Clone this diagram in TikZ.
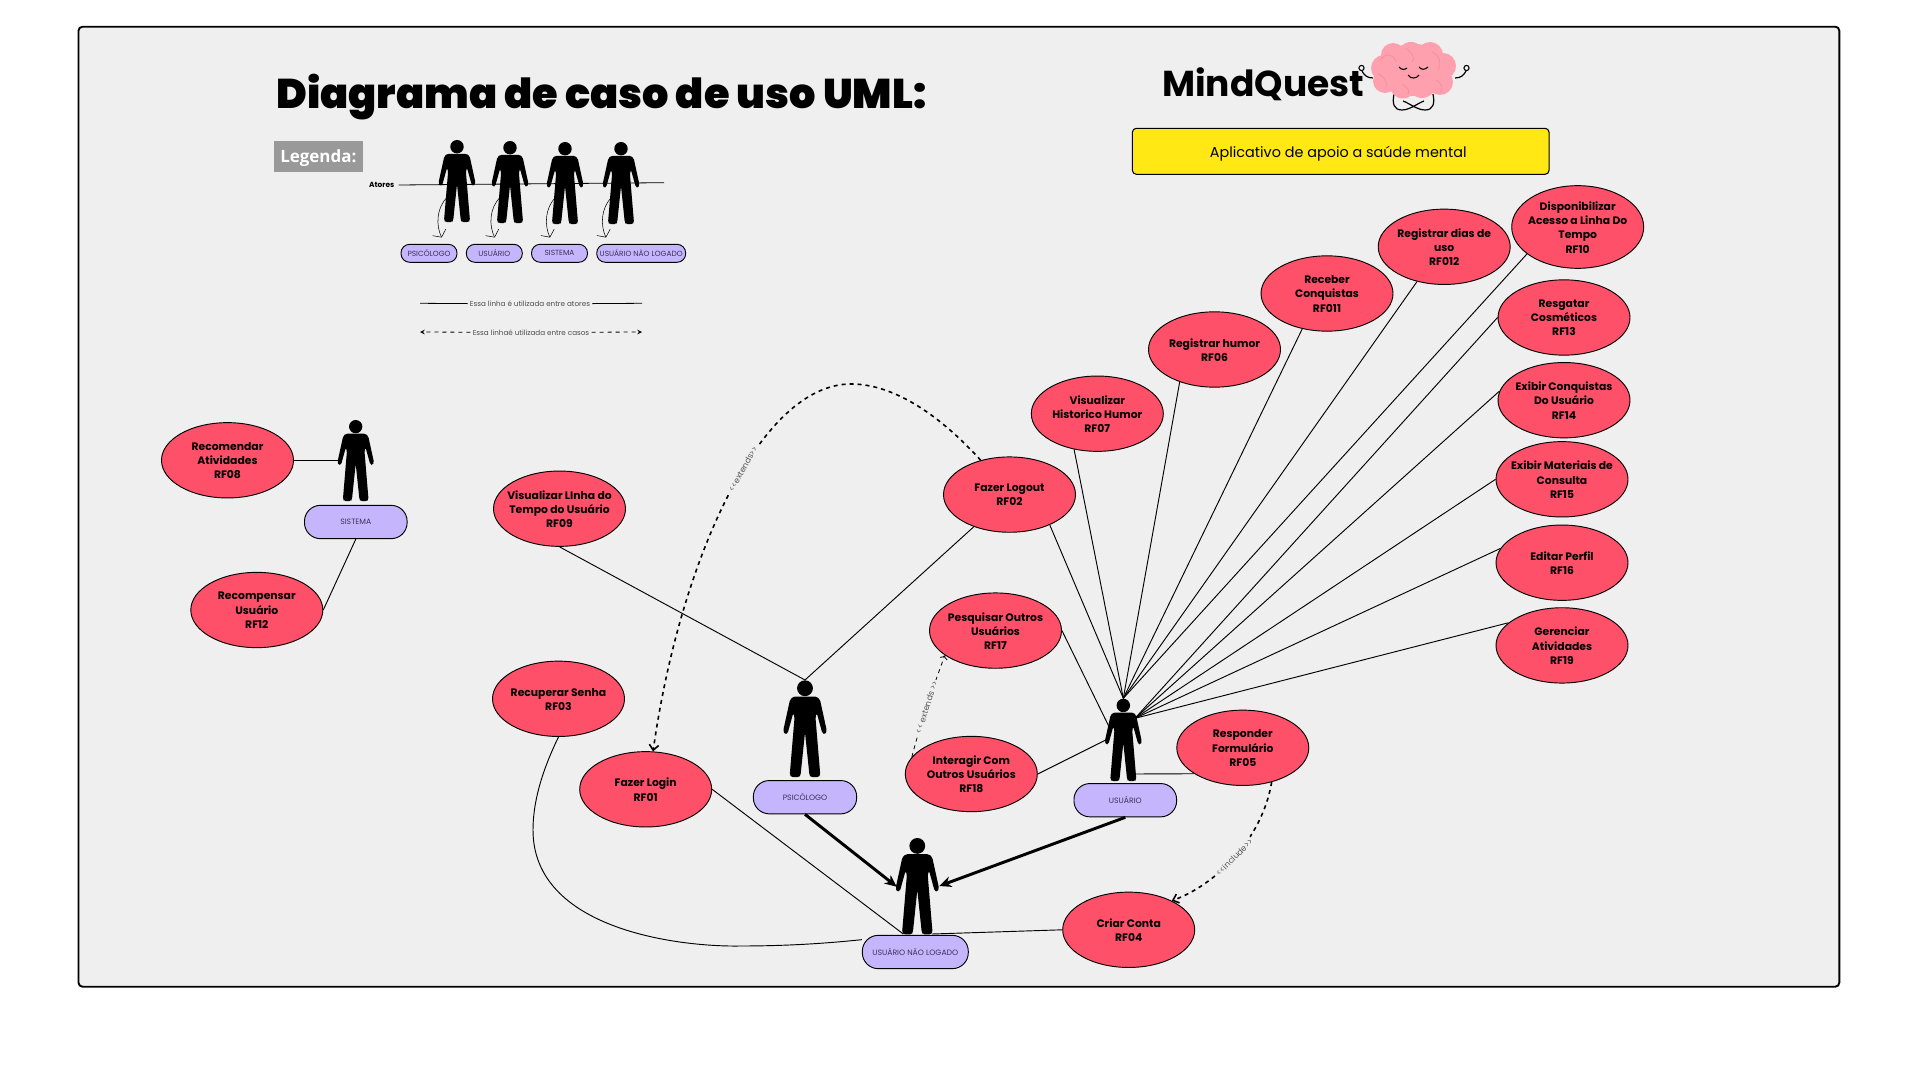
\documentclass[tikz,border=0pt]{standalone}
\usepackage{fontspec}
\usepackage{tikz}
\usetikzlibrary{shapes,arrows}
\usetikzlibrary{arrows.meta}
\usetikzlibrary{positioning}
\setmainfont{Poppins}
\newfontfamily\titlefont{Poppins Black}
\newfontfamily\legfont{Open Sans}
\newfontfamily\relfont{Poppins}
\definecolor{mypanel}{RGB}{239,239,239}
\definecolor{mycase}{RGB}{255,80,105}
\definecolor{mypill}{RGB}{196,181,253}
\definecolor{mypilltext}{RGB}{60,50,90}
\definecolor{myyellow}{RGB}{255,232,20}
\definecolor{mybrain}{RGB}{255,160,174}
\definecolor{myfold}{RGB}{244,136,155}
\definecolor{mygrey}{RGB}{153,153,153}
\tikzset{
  actorfig/.pic={
    \fill (0,8.2) circle (8.2);
    \fill[rounded corners=1.2pt] (0,16.8) -- (12,16.8) -- (15.5,20) -- (22.5,52) -- (21,56) -- (18,55) -- (12.2,34)
      -- (10.8,38) -- (15.8,98) -- (14,100.2) -- (6,100.2) -- (4.6,98) -- (0,54)
      -- (-4.6,98) -- (-6,100.2) -- (-14,100.2) -- (-15.8,98) -- (-10.8,38)
      -- (-12.2,34) -- (-18,55) -- (-21,56) -- (-22.5,52) -- (-15.5,20) -- (-12,16.8) -- cycle;
  }
}
\newcommand\mycasenode[4][]{%
  \node[casenode,#1] (#2) at (#3) {};
  \node[casetext] (#2text) at (#2) {#4};
}
\newcommand\myactor[3]{\pic[scale=#3] at (#1,#2) {actorfig};}
\newcommand\mypillnode[5][]{%
  \node[pillnode,#1,minimum width=#5] (#2) at (#3) {#4};
}

\begin{document}
\begin{tikzpicture}[
x=0.75pt,y=-0.75pt,
casenode/.style={
  ellipse,
  draw,
  line width=0.7pt,
  fill=mycase,
  minimum width=99pt,
  minimum height=56.5pt,
  inner sep=0pt},
casetext/.style={
  align=center,
  yshift=-0.3pt,
  font=\fontsize{8.1}{10.7}\selectfont\bfseries,
  inner sep=0pt},
pillnode/.style={
  rectangle,
  rounded corners=12pt,
  draw,
  line width=0.7pt,
  fill=mypill,
  text=mypilltext,
  minimum height=25pt,
  inner sep=0pt,
  font=\fontsize{5.8}{7}\selectfont},
legpill/.style={
  rounded corners=6.5pt,
  minimum height=13.5pt,
  font=\fontsize{5.6}{6}\selectfont},
assoc/.style={line width=0.7pt},
relation/.style={dashed,line width=1.2pt,-{Straight Barb[length=4pt,width=7pt]}},
relsmall/.style={dashed,line width=0.6pt,->},
reltext/.style={
  fill=mypanel,
  inner sep=1pt,
  text=black!65,
  font=\fontsize{6.2}{7}\selectfont\relfont},
inherit/.style={line width=2.2pt,-{Stealth[length=9pt,width=8pt]}},
legarrow/.style={line width=0.4pt,-{Straight Barb[length=4pt,width=11pt]}},
legtext/.style={
  text=black!70,
  inner sep=1.5pt,
  font=\fontsize{5.4}{6}\selectfont}
]
\useasboundingbox (0,0) rectangle (1920,1080);
\fill[white] (0,0) rectangle (1920,1080);
\draw[line width=1.4pt,fill=mypanel,rounded corners=3pt] (78.5,26.7) rectangle (1839.3,986.7);

% title and logo
\node[anchor=base west,inner sep=0pt,font=\fontsize{31.1}{36}\selectfont\titlefont] (title) at (276,108.3) {Diagrama de caso de uso UML:};
\node[anchor=base west,inner sep=0pt,font=\fontsize{27}{30}\selectfont\bfseries] (logo) at (1162,97) {MindQuest};
\node[draw,line width=0.8pt,fill=myyellow,rounded corners=3pt,minimum width=312.5pt,minimum height=34.5pt,inner sep=0pt] (slogan) at (1340.7,151.3) {};
\node[font=\fontsize{10.8}{13}\selectfont,inner sep=0pt] (slogantext) at (1338.3,153.5) {Aplicativo de apoio a saúde mental};

% brain
\draw[line width=0.9pt] (1373,78) .. controls (1367,78) and (1364,75) .. (1362,71);
\draw[line width=0.9pt] (1455,78) .. controls (1461,78) and (1464,75) .. (1466,71);
\draw[line width=0.8pt] (1361.5,68) circle (2.6);
\draw[line width=0.8pt] (1466.5,68) circle (2.6);
\draw[line width=0.9pt] (1394,94) .. controls (1392,104) and (1394,110) .. (1402,110) .. controls (1410,110) and (1418,103) .. (1424,101);
\draw[line width=0.9pt] (1433,94) .. controls (1435,104) and (1433,110) .. (1425,110) .. controls (1417,110) and (1409,103) .. (1403,101);
\fill[mybrain] (1413.5,70) ellipse (36 and 26);
\fill[mybrain] (1384,68) circle (13);
\fill[mybrain] (1393,55) circle (12);
\fill[mybrain] (1411,56) circle (14);
\fill[mybrain] (1430,55) circle (13);
\fill[mybrain] (1443,66) circle (13);
\fill[mybrain] (1440,82) circle (13);
\fill[mybrain] (1422,84) circle (14);
\fill[mybrain] (1403,85) circle (13.5);
\fill[mybrain] (1385,81) circle (12);
\draw[myfold,line width=0.4pt] (1380,60) .. controls (1386,52) and (1394,54) .. (1396,62);
\draw[myfold,line width=0.4pt] (1405,48) .. controls (1412,52) and (1416,58) .. (1412,62);
\draw[myfold,line width=0.4pt] (1432,52) .. controls (1440,56) and (1442,62) .. (1438,70);
\draw[myfold,line width=0.4pt] (1378,74) .. controls (1384,76) and (1388,82) .. (1386,88);
\draw[myfold,line width=0.4pt] (1436,80) .. controls (1442,84) and (1444,88) .. (1440,92);
\draw[myfold,line width=0.4pt] (1402,84) .. controls (1408,88) and (1410,90) .. (1408,94);
\draw[line width=0.8pt] (1399,67) .. controls (1401,70) and (1405,70) .. (1407,68);
\draw[line width=0.8pt] (1419,67) .. controls (1421,70) and (1425,70) .. (1428,67);
\draw[line width=0.8pt] (1408,75) .. controls (1410,79) and (1417,79) .. (1419,75);

% legend
\node[fill=mygrey,minimum width=67pt,minimum height=23pt,inner sep=0pt] (legenda) at (318.3,156.5) {};
\node[text=white,inner sep=0pt,font=\fontsize{12.7}{15}\selectfont\legfont\bfseries] (legendatext) at (318.3,158.5) {Legenda:};
\node[inner sep=0pt,font=\fontsize{5.6}{7}\selectfont\bfseries] (atores) at (381.7,185) {Atores};
\coordinate (atoresend) at (664,182.7);
\draw[line width=0.6pt] ([xshift=3pt]atores.east) -- (atoresend);
\myactor{457}{140}{.82}
\myactor{510}{141}{.82}
\myactor{565}{142}{.82}
\myactor{621}{142}{.82}
\mypillnode[legpill]{legpsi}{429,253.3}{PSICÓLOGO}{42pt}
\mypillnode[legpill]{legusr}{494.3,253.3}{USUÁRIO}{42pt}
\mypillnode[legpill]{legsis}{559.5,253.3}{SISTEMA}{42pt}
\mypillnode[legpill]{legnl}{641.2,253.3}{USUÁRIO NÃO LOGADO}{66.7pt}
\coordinate (leg1from) at (447.5,197);
\coordinate (leg2from) at (500.5,197);
\coordinate (leg3from) at (556,197);
\coordinate (leg4from) at (612,197);
\coordinate (leg1to) at (441.7,237.5);
\coordinate (leg2to) at (494.7,237.5);
\coordinate (leg3to) at (550,237.5);
\coordinate (leg4to) at (606,237.5);
\draw[legarrow] (leg1from) .. controls (436,208) and (436,226) .. (leg1to);
\draw[legarrow] (leg2from) .. controls (489,208) and (489,226) .. (leg2to);
\draw[legarrow] (leg3from) .. controls (544.5,208) and (544.5,226) .. (leg3to);
\draw[legarrow] (leg4from) .. controls (600.5,208) and (600.5,226) .. (leg4to);
\node[legtext] (line1) at (530,304) {Essa linha é utilizada entre atores};
\coordinate (line1a) at (420,303.3);
\coordinate (line1b) at (642,303.3);
\draw[line width=0.6pt] (line1a) -- (line1);
\draw[line width=0.6pt] (line1) -- (line1b);
\node[legtext] (line2) at (531,332.5) {Essa linhaé utilizada entre casos};
\coordinate (line2a) at (420,332);
\coordinate (line2b) at (642,332);
\draw[dashed,line width=0.6pt,-stealth] (line2) -- (line2a);
\draw[dashed,line width=0.6pt,-stealth] (line2) -- (line2b);

% actors
\myactor{355.7}{420}{.81}
\myactor{805}{680.3}{.967}
\myactor{1123.3}{698.7}{.823}
\myactor{917.3}{838}{.963}
\mypillnode{sispill}{355.8,522}{SISTEMA}{77pt}
\mypillnode{psipill}{805,797.2}{PSICÓLOGO}{77.5pt}
\mypillnode{usrpill}{1125.3,800.2}{USUÁRIO}{77pt}
\mypillnode{nlpill}{915.3,952}{USUÁRIO NÃO LOGADO}{79.5pt}
\coordinate (sisarm) at (338.3,460.3);
\coordinate (psitop) at (805,680);
\coordinate (usrtop) at (1123.3,698.3);
\coordinate (usrarm) at (1135,718.3);
\coordinate (usrleft) at (1105.7,740);
\coordinate (usrside) at (1109.3,727.3);
\coordinate (usrfoot) at (1136,774);
\coordinate (nlleft) at (896.7,886.7);
\coordinate (nlright) at (939.3,886);
\coordinate (nlfoot) at (903.3,934);
\coordinate (nlfootb) at (932,934);

% use cases
\mycasenode{rf01}{645.7,789.3}{Fazer Login\\RF01}
\mycasenode{rf02}{1009.5,494.6}{Fazer Logout\\RF02}
\mycasenode{rf03}{558.5,698.8}{Recuperar Senha\\RF03}
\mycasenode{rf04}{1128.7,929.8}{Criar Conta\\RF04}
\mycasenode{rf05}{1242.8,747.8}{Responder\\Formulário\\RF05}
\mycasenode{rf06}{1214.5,349.5}{Registrar humor\\RF06}
\mycasenode{rf07}{1097.3,413.7}{Visualizar\\Historico Humor\\RF07}
\mycasenode{rf08}{227.5,460.3}{Recomendar\\Atividades\\RF08}
\mycasenode{rf09}{559.5,508.7}{Visualizar LInha do\\Tempo do Usuário\\RF09}
\mycasenode[minimum height=62pt]{rf10}{1577.7,227}{Disponibilizar\\Acesso a Linha Do\\Tempo\\RF10}
\mycasenode{rf011}{1327,293.5}{Receber\\Conquistas\\RF011}
\mycasenode{rf012}{1444.2,246.8}{Registrar dias de\\uso\\RF012}
\mycasenode{rf12}{256.8,610}{Recompensar\\Usuário\\RF12}
\mycasenode{rf13}{1564,317.5}{Resgatar\\Cosméticos\\RF13}
\mycasenode{rf14}{1564,400.2}{Exibir Conquistas\\Do Usuário\\RF14}
\mycasenode{rf15}{1562,479.3}{Exibir Materiais de\\Consulta\\RF15}
\mycasenode{rf16}{1562,562.7}{Editar Perfil\\RF16}
\mycasenode{rf17}{995.5,630.6}{Pesquisar Outros\\Usuários\\RF17}
\mycasenode{rf18}{971.3,774}{Interagir Com\\Outros Usuários\\RF18}
\mycasenode{rf19}{1562,645.4}{Gerenciar\\Atividades\\RF19}

% connectors
\draw[assoc] (rf08.east) -- (sisarm);
\draw[assoc] (rf12.east) -- (sispill.south);
\draw[assoc] (rf09.270) -- (psitop);
\draw[assoc] (rf02.222) -- (psitop);
\draw[assoc] (rf02.323) -- (usrtop);
\draw[assoc] (rf07.237) -- (usrtop);
\draw[assoc] (rf06.223) -- (usrtop);
\draw[assoc] (rf011.235) -- (usrtop);
\draw[assoc] (rf012.232) -- (usrtop);
\draw[assoc] (rf10.208) -- (usrtop);
\draw[assoc] (rf13.west) -- (usrarm);
\draw[assoc] (rf14.172) -- (usrarm);
\draw[assoc] (rf15.west) -- (usrarm);
\draw[assoc] (rf16.167) -- (usrarm);
\draw[assoc] (rf19.157) -- (usrarm);
\draw[assoc] (rf17.east) -- (usrside);
\draw[assoc] (rf18.east) -- (usrleft);
\draw[assoc] (rf05.208) -- (usrfoot);
\draw[assoc] (rf01.east) -- (nlfoot);
\draw[assoc] (rf04.west) -- (nlfootb);
\draw[assoc] (rf03.south) .. controls (540,775) and (533,805) .. (533,830) .. controls (533,930) and (680,947) .. (740,946) .. controls (790,946) and (830,943) .. (nlpill.167);
\draw[inherit] (psipill.south) -- (nlleft);
\draw[inherit] (usrpill.south) -- (nlright);
\draw[relation] (rf02.130) .. controls (935,410) and (890,384) .. (851,384) .. controls (760,384) and (680,560) .. node[reltext,pos=.43,rotate=61] (ext1) {<<extends>>} (rf01.79);
\draw[relation] (rf05.310) .. controls (1262,840) and (1215,885) .. node[reltext,pos=.5,rotate=45] (incl) {<<include>>} (rf04.34);
\draw[relsmall] (rf18.164) .. controls (920,725) and (932,690) .. node[reltext,pos=.5,rotate=72] (ext2) {<< extends >>} (rf17.206);
\end{tikzpicture}
\end{document}
